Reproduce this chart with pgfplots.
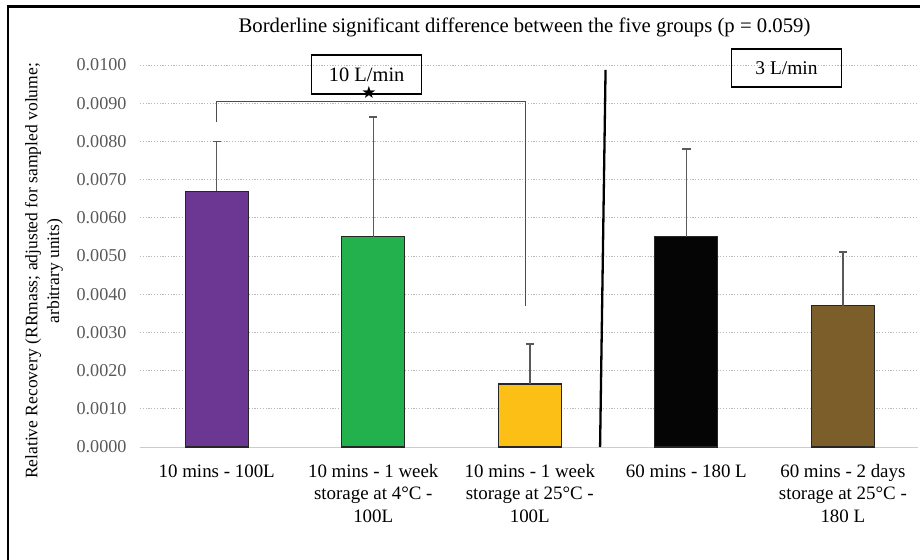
\documentclass[border=0pt]{standalone}
\usepackage{pgfplots}
\pgfplotsset{compat=1.18}
\usepackage{fontspec}
\setmainfont{Liberation Serif}
\newfontfamily\symfont{DejaVu Sans}
\definecolor{cPurple}{HTML}{6C3792}
\definecolor{cGreen}{HTML}{22B14C}
\definecolor{cYellow}{HTML}{FBBF16}
\definecolor{cBlack}{HTML}{050505}
\definecolor{cBrown}{HTML}{7B5E2A}
\definecolor{tickgray}{HTML}{595959}
\definecolor{errgray}{HTML}{595959}
\begin{document}
\begin{tikzpicture}[x=1bp,y=1bp]
\path[use as bounding box] (0,0) rectangle (920,-560);
\begin{axis}[
  at={(140bp,-447bp)}, anchor=south west,
  scale only axis, width=778bp, height=382bp,
  xmin=-0.49, xmax=4.48, ymin=0, ymax=0.01,
  clip=false,
  axis x line=bottom, axis y line=left,
  y axis line style={draw=none},
  x axis line style={draw=black!20, line width=1pt, -},
  major tick length=0pt,
  ytick={0,0.001,0.002,0.003,0.004,0.005,0.006,0.007,0.008,0.009,0.01},
  scaled y ticks=false,
  yticklabel style={/pgf/number format/fixed, /pgf/number format/fixed zerofill,
    /pgf/number format/precision=4, font=\fontsize{18.2}{20}\selectfont, text=tickgray, xshift=-10bp},
  /pgf/number format/assume math mode=true,
  ymajorgrids,
  grid style={draw=black!28, line width=0.9pt, dash pattern=on 1.2pt off 1.6pt},
  xtick={0,1,2,3,4},
  xticklabels={{10 mins - 100L},{10 mins - 1 week\\storage at 4°C -\\100L},{10 mins - 1 week\\storage at 25°C -\\100L},{60 mins - 180 L},{60 mins - 2 days\\storage at 25°C -\\180 L}},
  xticklabel style={align=center, font=\fontsize{19}{22.3}\selectfont, text=black, yshift=-14bp},
  error bars/error bar style={line width=1.5pt, color=errgray},
  error bars/error mark options={rotate=90, mark size=4.2bp, line width=1.6pt, color=errgray},
]
\addplot[ybar, bar width=63bp, fill=cPurple, draw=black!85, line width=1.1pt,
  error bars/.cd, y dir=plus, y explicit] coordinates {(0,0.0067) +- (0,0.0013)};
\addplot[ybar, bar width=63bp, fill=cGreen, draw=black!85, line width=1.1pt,
  error bars/.cd, y dir=plus, y explicit] coordinates {(1,0.0055) +- (0,0.00314)};
\addplot[ybar, bar width=63bp, fill=cYellow, draw=black!85, line width=1.1pt,
  error bars/.cd, y dir=plus, y explicit] coordinates {(2,0.00165) +- (0,0.00105)};
\addplot[ybar, bar width=63bp, fill=cBlack, draw=black!85, line width=1.1pt,
  error bars/.cd, y dir=plus, y explicit] coordinates {(3,0.0055) +- (0,0.0023)};
\addplot[ybar, bar width=63bp, fill=cBrown, draw=black!85, line width=1.1pt,
  error bars/.cd, y dir=plus, y explicit] coordinates {(4,0.0037) +- (0,0.0014)};
% bracket
\draw[black!70, line width=1pt] (axis cs:0,0.00852) -- (axis cs:0,0.00904) -- (axis cs:1.972,0.00904) -- (axis cs:1.972,0.00369);
\node[font=\symfont\fontsize{17}{17}\selectfont] at (axis cs:0.973,0.00928) {★};
% divider
\draw[black, line width=2.3bp] (axis cs:2.484,0.00987) -- (axis cs:2.449,0);
% boxes
\node[draw=black, line width=1.3pt, minimum width=110bp, minimum height=39bp, inner sep=0pt,
  font=\fontsize{20.5}{22}\selectfont] at (axis cs:0.958,0.00975) {10 L/min};
\node[draw=black, line width=1.3pt, minimum width=110bp, minimum height=38bp, inner sep=0pt,
  font=\fontsize{19.5}{22}\selectfont] at (axis cs:3.640,0.00992) {3 L/min};
\end{axis}
% title
\node[font=\fontsize{20.8}{24}\selectfont] at (524.5,-27) {Borderline significant difference between the five groups (p = 0.059)};
% y label
\node[rotate=90, align=center, font=\fontsize{17.6}{22}\selectfont] at (44,-271) {Relative Recovery (RRmass; adjusted for sampled volume;\\arbitrary units)};
% frame
\draw[black, line width=2.6bp] (8,-560) -- (8,-6.5) -- (920,-6.5);
\end{tikzpicture}
\end{document}
